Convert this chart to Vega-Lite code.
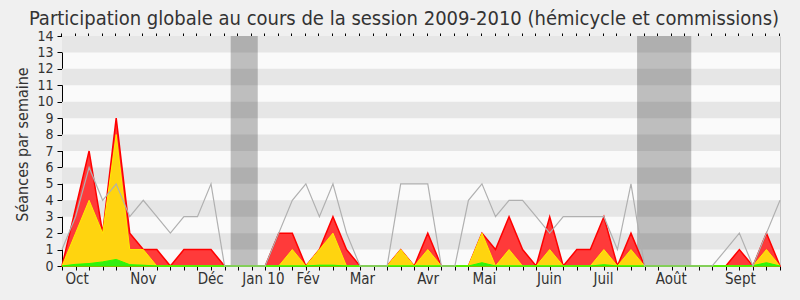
{
  "$schema": "https://vega.github.io/schema/vega-lite/v6.json",
  "width": 718,
  "height": 230,
  "autosize": "none",
  "padding": {"left": 62, "top": 36, "right": 20, "bottom": 34},
  "background": "#f0f0f0",
  "title": {
    "text": "Participation globale au cours de la session 2009-2010 (hémicycle et commissions)",
    "anchor": "middle",
    "frame": "group",
    "dx": -17,
    "offset": 0,
    "font": "DejaVu Sans Condensed, DejaVu Sans",
    "fontSize": 20,
    "fontWeight": "normal",
    "color": "#333333"
  },
  "config": {
    "view": {"stroke": null, "fill": "#fafafa"},
    "axis": {
      "labelFont": "DejaVu Sans Condensed, DejaVu Sans",
      "titleFont": "DejaVu Sans Condensed, DejaVu Sans",
      "labelColor": "#333333",
      "titleColor": "#333333",
      "domainColor": "#000000",
      "tickColor": "#000000",
      "grid": false
    }
  },
  "datasets": {
    "stripes": [
      {"lo": 1, "hi": 2}, {"lo": 3, "hi": 4}, {"lo": 5, "hi": 6}, {"lo": 7, "hi": 8},
      {"lo": 9, "hi": 10}, {"lo": 11, "hi": 12}, {"lo": 13, "hi": 14}
    ],
    "vacances": [
      {"start": 12.45, "end": 14.45},
      {"start": 42.45, "end": 46.45}
    ],
    "weeks": [
      {"w": 0, "total": 0, "hemi": 0, "comm": 0, "max": 1},
      {"w": 1, "total": 3.5, "hemi": 2, "comm": 0.1, "max": 3},
      {"w": 2, "total": 7, "hemi": 4, "comm": 0.15, "max": 6},
      {"w": 3, "total": 2, "hemi": 2, "comm": 0.25, "max": 4},
      {"w": 4, "total": 9, "hemi": 8, "comm": 0.4, "max": 5},
      {"w": 5, "total": 2, "hemi": 1, "comm": 0.08, "max": 3},
      {"w": 6, "total": 1, "hemi": 1, "comm": 0.05, "max": 4},
      {"w": 7, "total": 1, "hemi": 0, "comm": 0, "max": 3},
      {"w": 8, "total": 0, "hemi": 0, "comm": 0, "max": 2},
      {"w": 9, "total": 1, "hemi": 0, "comm": 0, "max": 3},
      {"w": 10, "total": 1, "hemi": 0, "comm": 0, "max": 3},
      {"w": 11, "total": 1, "hemi": 0, "comm": 0, "max": 5},
      {"w": 12, "total": 0, "hemi": 0, "comm": 0, "max": 0},
      {"w": 13, "total": 0, "hemi": 0, "comm": 0, "max": 0},
      {"w": 14, "total": 0, "hemi": 0, "comm": 0, "max": 0},
      {"w": 15, "total": 0, "hemi": 0, "comm": 0, "max": 0},
      {"w": 16, "total": 2, "hemi": 0, "comm": 0, "max": 2},
      {"w": 17, "total": 2, "hemi": 1, "comm": 0, "max": 4},
      {"w": 18, "total": 0, "hemi": 0, "comm": 0, "max": 5},
      {"w": 19, "total": 1, "hemi": 1, "comm": 0.05, "max": 3},
      {"w": 20, "total": 3, "hemi": 2, "comm": 0.05, "max": 5},
      {"w": 21, "total": 1, "hemi": 0, "comm": 0, "max": 2},
      {"w": 22, "total": 0, "hemi": 0, "comm": 0, "max": 0},
      {"w": 23, "total": 0, "hemi": 0, "comm": 0, "max": 0},
      {"w": 24, "total": 0, "hemi": 0, "comm": 0, "max": 0},
      {"w": 25, "total": 1, "hemi": 1, "comm": 0, "max": 5},
      {"w": 26, "total": 0, "hemi": 0, "comm": 0, "max": 5},
      {"w": 27, "total": 2, "hemi": 1, "comm": 0, "max": 5},
      {"w": 28, "total": 0, "hemi": 0, "comm": 0, "max": 0},
      {"w": 29, "total": 0, "hemi": 0, "comm": 0, "max": 0},
      {"w": 30, "total": 0, "hemi": 0, "comm": 0, "max": 4},
      {"w": 31, "total": 2, "hemi": 2, "comm": 0.2, "max": 5},
      {"w": 32, "total": 1, "hemi": 0, "comm": 0, "max": 3},
      {"w": 33, "total": 3, "hemi": 1, "comm": 0, "max": 4},
      {"w": 34, "total": 1, "hemi": 0, "comm": 0, "max": 4},
      {"w": 35, "total": 0, "hemi": 0, "comm": 0, "max": 3},
      {"w": 36, "total": 3, "hemi": 1, "comm": 0, "max": 2},
      {"w": 37, "total": 0, "hemi": 0, "comm": 0, "max": 3},
      {"w": 38, "total": 1, "hemi": 0, "comm": 0, "max": 3},
      {"w": 39, "total": 1, "hemi": 0, "comm": 0, "max": 3},
      {"w": 40, "total": 3, "hemi": 1, "comm": 0.08, "max": 3},
      {"w": 41, "total": 0, "hemi": 0, "comm": 0, "max": 1},
      {"w": 42, "total": 2, "hemi": 1, "comm": 0, "max": 5},
      {"w": 43, "total": 0, "hemi": 0, "comm": 0, "max": 0},
      {"w": 44, "total": 0, "hemi": 0, "comm": 0, "max": 0},
      {"w": 45, "total": 0, "hemi": 0, "comm": 0, "max": 0},
      {"w": 46, "total": 0, "hemi": 0, "comm": 0, "max": 0},
      {"w": 47, "total": 0, "hemi": 0, "comm": 0, "max": 0},
      {"w": 48, "total": 0, "hemi": 0, "comm": 0, "max": 0},
      {"w": 49, "total": 0, "hemi": 0, "comm": 0, "max": 1},
      {"w": 50, "total": 1, "hemi": 0, "comm": 0, "max": 2},
      {"w": 51, "total": 0, "hemi": 0, "comm": 0.02, "max": 0},
      {"w": 52, "total": 2, "hemi": 1, "comm": 0.2, "max": 2},
      {"w": 53, "total": 0, "hemi": 0, "comm": 0, "max": 4}
    ]
  },
  "resolve": {"axis": {"x": "independent", "y": "independent"}},
  "layer": [
    {
      "data": {"name": "stripes"},
      "mark": {"type": "rect", "fill": "#e6e6e6"},
      "encoding": {
        "y": {
          "field": "lo", "type": "quantitative",
          "scale": {"domain": [0, 14], "nice": false, "zero": true},
          "axis": {
            "values": [0,1,2,3,4,5,6,7,8,9,10,11,12,13,14],
            "title": "Séances par semaine",
            "titleFontSize": 16,
            "titleFontWeight": "normal",
            "titlePadding": 6,
            "titleY": 108,
            "labelFontSize": 14,
            "tickSize": 5,
            "labelPadding": 4
          }
        },
        "y2": {"field": "hi"}
      }
    },
    {
      "data": {"name": "vacances"},
      "mark": {"type": "rect", "fill": "#000000", "opacity": 0.24},
      "encoding": {
        "x": {
          "field": "start", "type": "quantitative",
          "scale": {"domain": [0, 53], "nice": false, "zero": false},
          "axis": {
            "orient": "bottom",
            "values": [0,1,2,3,4,5,6,7,8,9,10,11,12,13,14,15,16,17,18,19,20,21,22,23,24,25,26,27,28,29,30,31,32,33,34,35,36,37,38,39,40,41,42,43,44,45,46,47,48,49,50,51,52,53],
            "labels": false,
            "tickSize": 4,
            "title": null
          }
        },
        "x2": {"field": "end"}
      }
    },
    {
      "data": {"name": "weeks"},
      "mark": {"type": "area", "fill": "#ff3a3a", "stroke": "#ff0000", "strokeWidth": 1.5, "fillOpacity": 1},
      "encoding": {
        "x": {
          "field": "w", "type": "quantitative",
          "axis": {
            "orient": "bottom",
            "values": [1.08, 5.97, 10.94, 14.83, 18.13, 22.14, 26.99, 31.14, 35.94, 39.93, 44.94, 50.04],
            "labelExpr": "datum.value < 3 ? 'Oct' : datum.value < 8 ? 'Nov' : datum.value < 12 ? 'Déc' : datum.value < 16 ? 'Jan 10' : datum.value < 20 ? 'Fév' : datum.value < 24 ? 'Mar' : datum.value < 29 ? 'Avr' : datum.value < 33 ? 'Mai' : datum.value < 38 ? 'Juin' : datum.value < 42 ? 'Juil' : datum.value < 47 ? 'Août' : 'Sept'",
            "labelFontSize": 15,
            "labelPadding": 5,
            "labelFlush": false,
            "labelOverlap": false,
            "tickSize": 0,
            "ticks": false,
            "domain": false,
            "title": null
          }
        },
        "y": {
          "field": "total", "type": "quantitative",
          "axis": {"orient": "right", "labels": false, "ticks": false, "domainColor": "#c8c8c8", "title": null}
        }
      }
    },
    {
      "data": {"name": "weeks"},
      "mark": {"type": "area", "fill": "#ffd40f", "stroke": "#ffee00", "strokeWidth": 1, "fillOpacity": 1},
      "encoding": {
        "x": {
          "field": "w", "type": "quantitative",
          "axis": {
            "orient": "top",
            "values": [0,1,2,3,4,5,6,7,8,9,10,11,12,13,14,15,16,17,18,19,20,21,22,23,24,25,26,27,28,29,30,31,32,33,34,35,36,37,38,39,40,41,42,43,44,45,46,47,48,49,50,51,52,53],
            "labels": false,
            "domain": false,
            "tickSize": 3,
            "tickOffset": -1,
            "title": null
          }
        },
        "y": {"field": "hemi", "type": "quantitative", "axis": null}
      }
    },
    {
      "data": {"name": "weeks"},
      "mark": {"type": "area", "fill": "#33ee11", "stroke": "#22ff00", "strokeWidth": 1, "fillOpacity": 1},
      "encoding": {
        "x": {"field": "w", "type": "quantitative", "axis": null},
        "y": {"field": "comm", "type": "quantitative", "axis": null}
      }
    },
    {
      "data": {"name": "weeks"},
      "mark": {"type": "line", "stroke": "#b0b0b0", "strokeWidth": 1.2},
      "encoding": {
        "x": {"field": "w", "type": "quantitative", "axis": null},
        "y": {"field": "max", "type": "quantitative", "axis": null}
      }
    }
  ]
}
